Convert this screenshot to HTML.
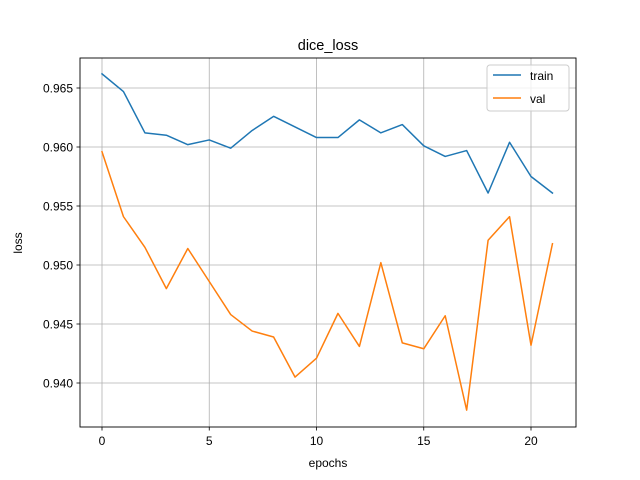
<!DOCTYPE html>
<html><head><meta charset="utf-8"><style>body{margin:0;background:#fff}svg{display:block;font-family:"Liberation Sans","DejaVu Sans",sans-serif}</style></head>
<body>
<svg id="chart" width="640" height="480">
<rect x="0" y="0" width="640" height="480" fill="#fff"/>
<text x="328" y="50" font-size="14.5" text-anchor="middle">dice_loss</text>
<g id="grid"></g>
<g id="ticks"></g>
<g id="series"></g>
<rect x="80" y="58" width="496" height="369" fill="none" stroke="#000" stroke-width="0.9"/>
<text x="328" y="467" font-size="12" text-anchor="middle">epochs</text>
<text transform="translate(22,243) rotate(-90)" font-size="12" text-anchor="middle">loss</text>
<g>
<rect x="487" y="65" width="82" height="46" rx="3" fill="#fff" stroke="#ccc" stroke-width="1" fill-opacity="0.8"/>
<g><line x1="493" y1="75" x2="521" y2="75" stroke="#1f77b4" stroke-width="1.5"/><text x="530" y="80" font-size="12">train</text></g>
<g><line x1="493" y1="98" x2="521" y2="98" stroke="#ff7f0e" stroke-width="1.5"/><text x="530" y="103" font-size="12">val</text></g>
</g>
</svg>
<script>
const epochs=[0,1,2,3,4,5,6,7,8,9,10,11,12,13,14,15,16,17,18,19,20,21];
const trainLoss=[0.9662,0.9647,0.9612,0.9610,0.9602,0.9606,0.9599,0.9614,0.9626,0.9617,0.9608,0.9608,0.9623,0.9612,0.9619,0.9601,0.9592,0.9597,0.9561,0.9604,0.9575,0.9561];
const valLoss=[0.9596,0.9541,0.9515,0.9480,0.9514,0.9486,0.9458,0.9444,0.9439,0.9405,0.9421,0.9459,0.9431,0.9502,0.9434,0.9429,0.9457,0.9377,0.9521,0.9541,0.9432,0.9518];
const xTicks=[0,5,10,15,20];
const yTicks=[0.940,0.945,0.950,0.955,0.960,0.965];
const NS="http://www.w3.org/2000/svg";
function xs(v){return 102+(v-0)*(531-102)/20;}
function ys(v){return 88+(0.965-v)*(383-88)/0.025;}
function mk(tag,attrs,parent){const e=document.createElementNS(NS,tag);for(const k in attrs)e.setAttribute(k,attrs[k]);parent.appendChild(e);return e;}
const grid=document.getElementById('grid'),ticks=document.getElementById('ticks'),series=document.getElementById('series');
xTicks.forEach(t=>{const x=xs(t);
 const g=mk('line',{x1:x,y1:58,x2:x,y2:427,stroke:'#b0b0b0','stroke-width':0.8},grid);
 
 
 mk('line',{x1:x,y1:427,x2:x,y2:430.5,stroke:'#000','stroke-width':0.8},ticks);
 const tx=mk('text',{x:x,y:445,'font-size':12,'text-anchor':'middle'},ticks);tx.textContent=t;
 
 });
yTicks.forEach(t=>{const y=ys(t);
 const g=mk('line',{x1:80,y1:y,x2:576,y2:y,stroke:'#b0b0b0','stroke-width':0.8},grid);
 
 
 mk('line',{x1:76.5,y1:y,x2:80,y2:y,stroke:'#000','stroke-width':0.8},ticks);
 const tx=mk('text',{x:73,y:y+4.5,'font-size':12,'text-anchor':'end'},ticks);tx.textContent=t.toFixed(3);
 
 });
function line(data,color,name){const p=mk('polyline',{points:data.map((v,i)=>xs(epochs[i])+','+ys(v)).join(' '),fill:'none',stroke:color,'stroke-width':1.5,'stroke-linejoin':'round','stroke-linecap':'square'},series);
 
 }
line(trainLoss,'#1f77b4','train-line');
line(valLoss,'#ff7f0e','val-line');
</script>
</body></html>
